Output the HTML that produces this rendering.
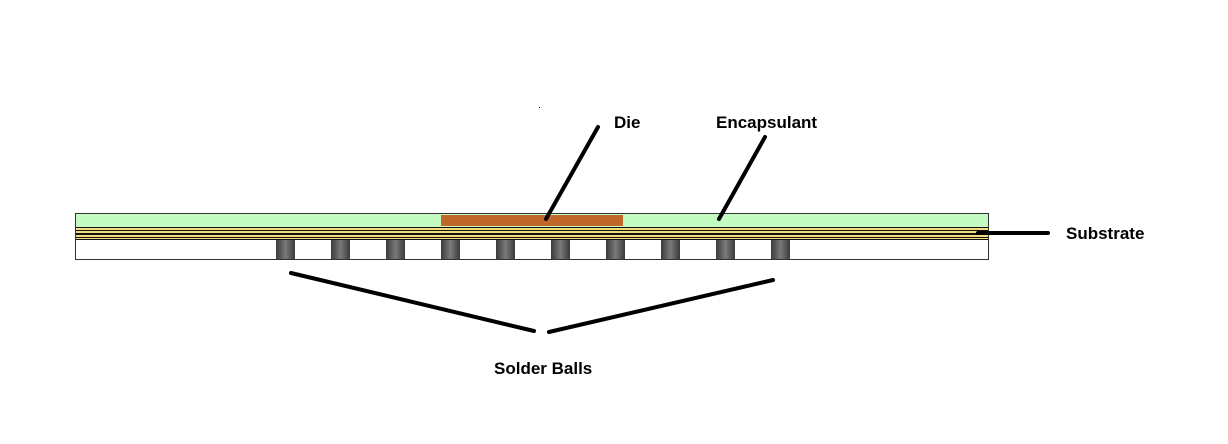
<!DOCTYPE html>
<html><head><style>
body{margin:0;background:#fff;width:1228px;height:439px;overflow:hidden}
svg text{font-family:"Liberation Sans",sans-serif;font-weight:bold;font-size:17px;fill:#000}
</style></head><body>
<svg width="1228" height="439" viewBox="0 0 1228 439">
<defs><linearGradient id="g" x1="0" x2="1"><stop offset="0" stop-color="#3a3a3a"/><stop offset="0.5" stop-color="#7a7a7a"/><stop offset="1" stop-color="#3a3a3a"/></linearGradient></defs>
<rect x="75.5" y="213.5" width="913" height="46" fill="#fff" stroke="#333"/>
<rect x="76" y="214" width="912" height="13" fill="#c4fbc2"/>
<rect x="441" y="215" width="182" height="11" fill="#c0682a"/>
<rect x="76" y="227" width="912" height="13" fill="#111"/>
<rect x="76" y="228" width="912" height="2" fill="#f3dc7c"/>
<rect x="76" y="231" width="912" height="2" fill="#f3dc7c"/>
<rect x="76" y="235" width="912" height="2" fill="#f3dc7c"/>
<rect x="76" y="238" width="912" height="1" fill="#f3dc7c"/>
<g fill="url(#g)">
<rect x="276" y="240" width="19" height="19"/><rect x="331" y="240" width="19" height="19"/><rect x="386" y="240" width="19" height="19"/><rect x="441" y="240" width="19" height="19"/><rect x="496" y="240" width="19" height="19"/><rect x="551" y="240" width="19" height="19"/><rect x="606" y="240" width="19" height="19"/><rect x="661" y="240" width="19" height="19"/><rect x="716" y="240" width="19" height="19"/><rect x="771" y="240" width="19" height="19"/>
</g>
<g stroke="#000" stroke-width="4" stroke-linecap="round">
<line x1="598" y1="127" x2="546" y2="219"/>
<line x1="765" y1="137" x2="719" y2="219"/>
<line x1="978" y1="233" x2="1048" y2="233"/>
<line x1="291" y1="273" x2="534" y2="331"/>
<line x1="549" y1="332" x2="773" y2="280"/>
</g>
<rect x="539" y="107" width="1" height="1" fill="#000"/>
<text x="614" y="128">Die</text>
<text x="716" y="128">Encapsulant</text>
<text x="1066" y="239">Substrate</text>
<text x="494" y="374">Solder Balls</text>
</svg>
</body></html>
